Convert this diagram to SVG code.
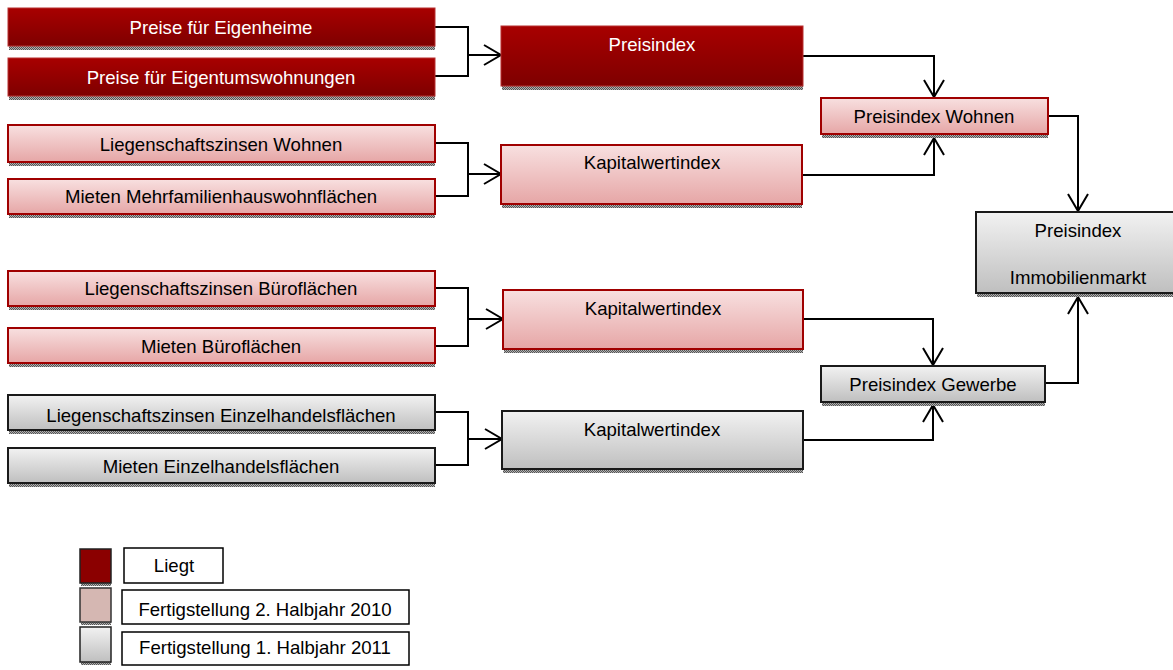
<svg xmlns="http://www.w3.org/2000/svg" width="1173" height="670" viewBox="0 0 1173 670">
<style>
text{font-family:"Liberation Sans",Arial,sans-serif;font-size:18.6px;text-anchor:middle}
.dk{fill:url(#gDark);stroke:#b83030;stroke-width:1}
.pk{fill:url(#gPink);stroke:#a00000;stroke-width:2}
.gy{fill:url(#gGray);stroke:#1a1a1a;stroke-width:2}
.sh{fill:url(#hatch)}
.wt{fill:#ffffff}
.bk{fill:#000000}
.con{fill:none;stroke:#000;stroke-width:2}
.lg{fill:#fff;stroke:#000;stroke-width:1.5}
</style>
<defs>
<linearGradient id="gDark" x1="0" y1="0" x2="0" y2="1"><stop offset="0" stop-color="#a80000"/><stop offset="1" stop-color="#7e0000"/></linearGradient>
<linearGradient id="gPink" x1="0" y1="0" x2="0" y2="1"><stop offset="0" stop-color="#f8e0e0"/><stop offset="1" stop-color="#e6a6a6"/></linearGradient>
<linearGradient id="gGray" x1="0" y1="0" x2="0" y2="1"><stop offset="0" stop-color="#f2f2f2"/><stop offset="1" stop-color="#bfbfbf"/></linearGradient>
<pattern id="hatch" width="2" height="2" patternUnits="userSpaceOnUse"><rect width="2" height="2" fill="#b0b0b0"/><rect width="1" height="1" fill="#555"/><rect x="1" y="1" width="1" height="1" fill="#555"/></pattern>
<marker id="arr" markerWidth="20" markerHeight="22" refX="18" refY="11" orient="auto" markerUnits="userSpaceOnUse"><path d="M1,1 L18,11 L1,21" fill="none" stroke="#000" stroke-width="2"/></marker>
</defs>

<g id="connectors">
<path class="con" d="M435,27 H468 V76 H435"/>
<path class="con" d="M468,55 H501" marker-end="url(#arr)"/>
<path class="con" d="M435,143 H468 V196 H435"/>
<path class="con" d="M468,174 H501" marker-end="url(#arr)"/>
<path class="con" d="M435,288 H468 V346 H435"/>
<path class="con" d="M468,319 H503" marker-end="url(#arr)"/>
<path class="con" d="M435,412 H468 V465 H435"/>
<path class="con" d="M468,439 H502" marker-end="url(#arr)"/>
<path class="con" d="M803,56 H934 V97" marker-end="url(#arr)"/>
<path class="con" d="M803,175 H934 V138" marker-end="url(#arr)"/>
<path class="con" d="M803,319 H933 V365" marker-end="url(#arr)"/>
<path class="con" d="M803,440 H933 V405" marker-end="url(#arr)"/>
<path class="con" d="M1048,116 H1078 V211" marker-end="url(#arr)"/>
<path class="con" d="M1045,383 H1078 V297" marker-end="url(#arr)"/>
</g>

<g id="n1"><rect class="sh" x="9" y="46" width="426" height="4"/><rect class="dk" x="8" y="8" width="427" height="38"/><text class="wt" x="221" y="34">Preise für Eigenheime</text></g>
<g id="n2"><rect class="sh" x="9" y="96" width="426" height="4"/><rect class="dk" x="8" y="58" width="427" height="38"/><text class="wt" x="221" y="84">Preise für Eigentumswohnungen</text></g>
<g id="n3"><rect class="sh" x="9" y="162" width="426" height="4"/><rect class="pk" x="8" y="125" width="427" height="37"/><text class="bk" x="221" y="151">Liegenschaftszinsen Wohnen</text></g>
<g id="n4"><rect class="sh" x="9" y="214" width="426" height="4"/><rect class="pk" x="8" y="179" width="427" height="35"/><text class="bk" x="221" y="203">Mieten Mehrfamilienhauswohnflächen</text></g>
<g id="n5"><rect class="sh" x="9" y="306" width="426" height="4"/><rect class="pk" x="8" y="271" width="427" height="35"/><text class="bk" x="221" y="295">Liegenschaftszinsen Büroflächen</text></g>
<g id="n6"><rect class="sh" x="9" y="363" width="426" height="4"/><rect class="pk" x="8" y="328" width="427" height="35"/><text class="bk" x="221" y="353">Mieten Büroflächen</text></g>
<g id="n7"><rect class="sh" x="9" y="430" width="426" height="4"/><rect class="gy" x="8" y="395" width="427" height="35"/><text class="bk" x="221" y="422">Liegenschaftszinsen Einzelhandelsflächen</text></g>
<g id="n8"><rect class="sh" x="9" y="483" width="426" height="4"/><rect class="gy" x="8" y="448" width="427" height="35"/><text class="bk" x="221" y="473">Mieten Einzelhandelsflächen</text></g>

<g id="m1"><rect class="sh" x="502" y="86" width="301" height="4"/><rect class="dk" x="501" y="26" width="302" height="60"/><text class="wt" x="652" y="51">Preisindex</text></g>
<g id="m2"><rect class="sh" x="502" y="204" width="300" height="4"/><rect class="pk" x="501" y="145" width="301" height="59"/><text class="bk" x="652" y="169">Kapitalwertindex</text></g>
<g id="m3"><rect class="sh" x="504" y="349" width="299" height="4"/><rect class="pk" x="503" y="290" width="300" height="59"/><text class="bk" x="653" y="315">Kapitalwertindex</text></g>
<g id="m4"><rect class="sh" x="503" y="469" width="300" height="4"/><rect class="gy" x="502" y="411" width="301" height="58"/><text class="bk" x="652" y="436">Kapitalwertindex</text></g>

<g id="pw"><rect class="sh" x="822" y="134" width="226" height="4"/><rect class="pk" x="821" y="98" width="227" height="36"/><text class="bk" x="934" y="123">Preisindex Wohnen</text></g>
<g id="pg"><rect class="sh" x="822" y="402" width="223" height="4"/><rect class="gy" x="821" y="366" width="224" height="36"/><text class="bk" x="933" y="391">Preisindex Gewerbe</text></g>
<g id="pi"><rect class="sh" x="977" y="293" width="200" height="4"/><rect class="gy" x="976" y="212" width="204" height="81"/><text class="bk" x="1078" y="237">Preisindex</text><text class="bk" x="1078" y="284">Immobilienmarkt</text></g>

<g id="legend">
<rect class="sh" x="81" y="583" width="30" height="3"/><rect x="80" y="549" width="31" height="34" fill="#8b0000" stroke="#222" stroke-width="1.5"/>
<rect class="sh" x="81" y="622" width="30" height="3"/><rect x="80" y="588" width="31" height="34" fill="#d5b7b2" stroke="#333" stroke-width="1.5"/>
<rect class="sh" x="81" y="662" width="30" height="3"/><rect x="80" y="627" width="31" height="35" fill="url(#gGray)" stroke="#222" stroke-width="1.5"/>
<rect class="lg" x="124" y="548" width="99" height="35"/><text class="bk" x="174" y="572">Liegt</text>
<rect class="lg" x="122" y="590" width="287" height="34"/><text class="bk" x="265" y="616">Fertigstellung 2. Halbjahr 2010</text>
<rect class="lg" x="122" y="632" width="287" height="33"/><text class="bk" x="265" y="654">Fertigstellung 1. Halbjahr 2011</text>
</g>
</svg>
